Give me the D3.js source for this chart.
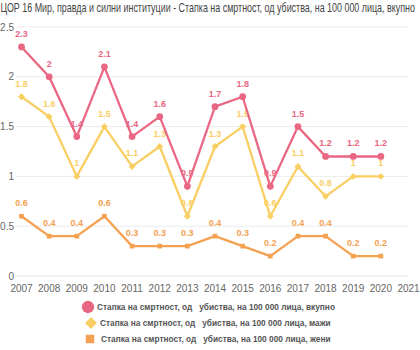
<!DOCTYPE html>
<html><head><meta charset="utf-8">
<script src="https://cdn.jsdelivr.net/npm/d3@7"></script>
<style>body{margin:0;background:#fff}svg{display:block}</style>
</head><body>
<svg id="c" width="420" height="350"></svg>
<script>
const years = [2007,2008,2009,2010,2011,2012,2013,2014,2015,2016,2017,2018,2019,2020];
const xTicks = [2007,2008,2009,2010,2011,2012,2013,2014,2015,2016,2017,2018,2019,2020,2021];
const yTicks = [0,0.5,1,1.5,2,2.5];
const total = [2.3,2,1.4,2.1,1.4,1.6,0.9,1.7,1.8,0.9,1.5,1.2,1.2,1.2];
const men = [1.8,1.6,1,1.5,1.1,1.3,0.6,1.3,1.5,0.6,1.1,0.8,1,1];
const women = [0.6,0.4,0.4,0.6,0.3,0.3,0.3,0.4,0.3,0.2,0.4,0.4,0.2,0.2];
const seriesNames = [
  "Стапка на смртност, од   убиства, на 100 000 лица, вкупно",
  "Стапка на смртност, од   убиства, на 100 000 лица, мажи",
  "Стапка на смртност, од   убиства, на 100 000 лица, жени"];
const colors = ["#ea6783","#f9cf63","#f4a152"];
const title = "ЦОР 16 Мир, правда и силни институции - Стапка на смртност, од убиства, на 100 000 лица, вкупно";

const svg = d3.select("#c");
const x = d3.scaleLinear().domain([2007,2021]).range([21.5,408.5]);
const y = d3.scaleLinear().domain([0,2.5]).range([276,27]);

const t = svg.append("text").attr("x",0).attr("y",12)
  .attr("font-family","Arial,'Liberation Sans',sans-serif")
  .attr("font-size",12).attr("fill","#444").text(title);
const tw = t.node().getComputedTextLength();
t.attr("transform",`translate(0.5,0) scale(${415/tw},1)`);

// grid
svg.append("g").selectAll("line").data(yTicks).join("line")
  .attr("x1",16).attr("x2",408).attr("y1",d=>y(d)).attr("y2",d=>y(d))
  .attr("stroke",d=>d===0?"#e6e6e6":"#ececec").attr("stroke-width",1);
svg.append("g").selectAll("text").data(yTicks).join("text")
  .attr("x",14).attr("y",d=>y(d)+3.5).attr("text-anchor","end")
  .attr("font-family","Arial,'Liberation Sans',sans-serif").attr("font-size",10).attr("fill","#666")
  .text(d=>d);
svg.append("g").selectAll("text").data(xTicks).join("text")
  .attr("x",d=>x(d)).attr("y",292).attr("text-anchor","middle")
  .attr("font-family","Arial,'Liberation Sans',sans-serif").attr("font-size",10).attr("fill","#666")
  .text(d=>d);

const data = [total,men,women];
const diamond = { draw(ctx,size){ const r=Math.sqrt(size/2); ctx.moveTo(0,-r); ctx.lineTo(r,0); ctx.lineTo(0,r); ctx.lineTo(-r,0); ctx.closePath(); } };
const symbols = [d3.symbolCircle,diamond,d3.symbolSquare];
const symSizes = [36,24,22];
const line = d3.line().x((d,i)=>x(years[i])).y(d=>y(d));

data.forEach((s,k)=>{
  const g = svg.append("g");
  g.selectAll("text").data(s).join("text")
    .attr("x",(d,i)=>x(years[i])).attr("y",d=>y(d)-10)
    .attr("text-anchor","middle").attr("font-family","Arial,'Liberation Sans',sans-serif")
    .attr("font-weight","bold").attr("font-size",9).attr("fill",colors[k]).text(d=>d);
});
[2,1,0].forEach(k=>{
  const s = data[k];
  const g = svg.append("g");
  g.append("path").datum(s).attr("d",line).attr("fill","none")
    .attr("stroke",colors[k]).attr("stroke-width",2.3).attr("stroke-linejoin","round");
  g.selectAll("path.m").data(s).join("path").attr("class","m")
    .attr("transform",(d,i)=>`translate(${x(years[i])},${y(d)})`)
    .attr("d",d3.symbol().type(symbols[k]).size(symSizes[k])).attr("fill",colors[k]);
});

// legend
const leg = svg.append("g");
const legY = [307,323,339];
const legX = [88,91,90];
const legSize = [120,72,72];
const legTX = [97,100,101];
seriesNames.forEach((n,k)=>{
  leg.append("path").attr("transform",`translate(${legX[k]},${legY[k]})`)
    .attr("d",d3.symbol().type(symbols[k]).size(legSize[k])).attr("fill",colors[k]);
  leg.append("text").attr("x",legTX[k]).attr("y",legY[k]+3)
    .attr("font-family","Arial,'Liberation Sans',sans-serif").attr("font-weight","bold")
    .attr("font-size",8.3).attr("fill","#555").attr("xml:space","preserve").style("white-space","pre").text(n);
});
</script>
</body></html>
